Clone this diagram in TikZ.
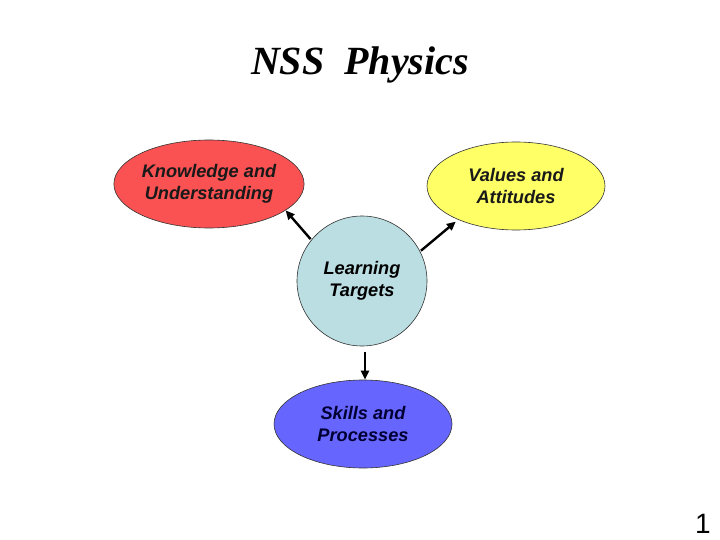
\documentclass[tikz,border=0pt]{standalone}
\usepackage{fontspec}
\setmainfont{Liberation Serif}
\setsansfont{Liberation Sans}
\usetikzlibrary{shapes.geometric}
\usetikzlibrary{calc}
\usetikzlibrary{arrows.meta}
\definecolor{knowred}{RGB}{250,82,82}
\definecolor{valyellow}{RGB}{255,255,102}
\definecolor{lightcyan}{RGB}{186,222,226}
\definecolor{skillblue}{RGB}{102,102,255}
\def\lbl{\sffamily\bfseries\itshape\fontsize{18.2}{22}\selectfont}

\begin{document}
\begin{tikzpicture}[x=1pt,y=-1pt,
    oval/.style={ellipse,draw=black!80,line width=0.6pt,minimum width=178pt,minimum height=88pt,inner sep=0pt,align=center,font=\lbl},
    link/.style={line width=2.4pt,-{Triangle[length=9pt,width=8pt]},shorten <=1pt}]

  \useasboundingbox[fill=white] (0,0) rectangle (720,540); %背景

  \node[anchor=base,font=\rmfamily\bfseries\itshape\fontsize{40}{40}\selectfont] (title) at (360,75) {NSS\ \ Physics}; %タイトル

  \node[oval,fill=knowred,text=black!90] (KU) at (209,184) {Knowledge and\\Understanding}; %左上
  \node[oval,fill=valyellow,text=black!90] (VA) at (516,186) {Values and\\Attitudes}; %右上
  \node[circle,draw=black!80,line width=0.6pt,fill=lightcyan,minimum size=130pt,inner sep=0pt,align=center,font=\lbl] (LT) at (362,281) {Learning\\Targets}; %中央
  \node[oval,fill=skillblue,text={rgb,255:red,0;green,0;blue,51}] (SP) at (363,424) {Skills and\\Processes}; %下

  \draw[link] (LT.141) -- (KU.-19); %左上へ
  \draw[link] (LT.27) -- ($(VA.210)+(-2,2)$); %右上へ
  \draw[link,shorten <=6pt] ($(LT.south)+(3,0)$) -- ($(SP.north)+(2,0)$); %下へ

  \node[anchor=base,font=\sffamily\fontsize{28}{28}\selectfont] (page) at (703,533) {1}; %ページ番号

\end{tikzpicture}
\end{document}
